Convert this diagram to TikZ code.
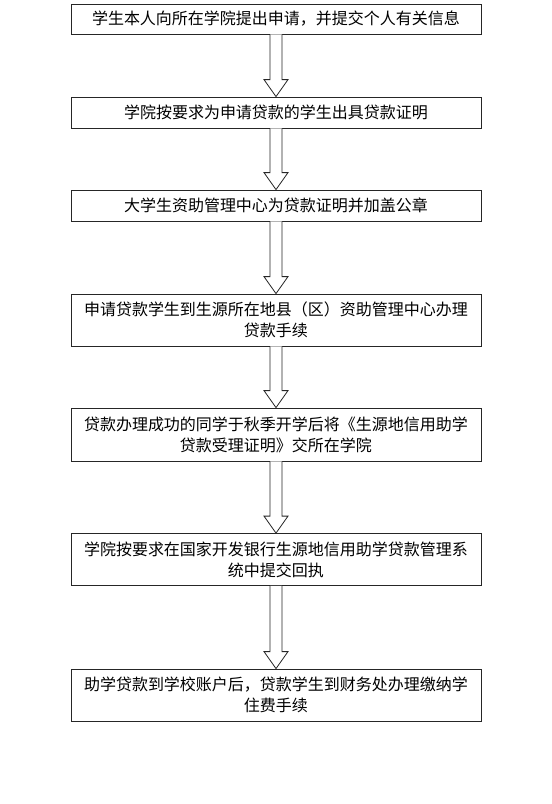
\documentclass[tikz,border=0pt]{standalone}
\usepackage{fontspec}
\setmainfont{Noto Sans CJK SC}
\usetikzlibrary{calc}
\tikzset{
  stepbox/.style={draw=black!85, line width=0.8pt, rectangle, minimum width=410pt, inner sep=0pt, align=center, font=\fontsize{16}{21}\selectfont, fill=white},
  bigarr/.style={draw=black!85, line width=0.8pt, fill=white, line join=miter},
}
\newcommand{\flowarrow}[2]{%
  \draw[bigarr] ($(#1.south)+(-6,0)$) -- ($(#2.north)+(-6,-17)$) -- ($(#2.north)+(-12,-17)$) -- (#2.north) -- ($(#2.north)+(12,-17)$) -- ($(#2.north)+(6,-17)$) -- ($(#1.south)+(6,0)$);%
}
\begin{document}
\begin{tikzpicture}[x=1pt,y=-1pt]
\useasboundingbox[fill=white] (0,0) rectangle (552,804);
\node[stepbox, minimum height=30pt] (s1) at (276,19) {学生本人向所在学院提出申请，并提交个人有关信息};
\node[stepbox, minimum height=31pt] (s2) at (276,112.5) {学院按要求为申请贷款的学生出具贷款证明};
\node[stepbox, minimum height=31pt] (s3) at (276,205.5) {大学生资助管理中心为贷款证明并加盖公章};
\node[stepbox, minimum height=52pt] (s4) at (276,320) {申请贷款学生到生源所在地县（区）资助管理中心办理\\贷款手续};
\node[stepbox, minimum height=53pt] (s5) at (276,434.5) {贷款办理成功的同学于秋季开学后将《生源地信用助学\\贷款受理证明》交所在学院};
\node[stepbox, minimum height=52pt] (s6) at (276,559.5) {学院按要求在国家开发银行生源地信用助学贷款管理系\\统中提交回执};
\node[stepbox, minimum height=52pt] (s7) at (276,695) {助学贷款到学校账户后，贷款学生到财务处办理缴纳学\\住费手续};
\flowarrow{s1}{s2}
\flowarrow{s2}{s3}
\flowarrow{s3}{s4}
\flowarrow{s4}{s5}
\flowarrow{s5}{s6}
\flowarrow{s6}{s7}
\end{tikzpicture}
\end{document}
